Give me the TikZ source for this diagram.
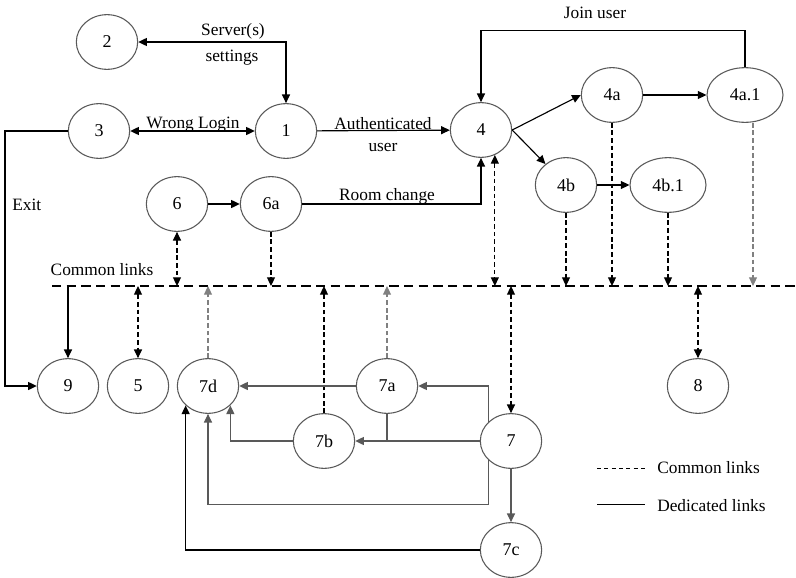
\documentclass[tikz,border=0pt]{standalone}
\usepackage{fontspec}
\setmainfont{Liberation Serif}
\usetikzlibrary{shapes.geometric,arrows.meta}
\begin{document}
\begin{tikzpicture}[x=0.75pt,y=-0.75pt,
  state/.style={ellipse,draw=black!65,line width=0.8pt,minimum width=46pt,
    minimum height=41pt,inner sep=0pt,font=\fontsize{13.5}{15}\selectfont},
  widestate/.style={state,minimum width=57pt},
  lbl/.style={font=\fontsize{13}{15}\selectfont,inner sep=0pt,anchor=base},
  ded/.style={line width=0.85pt,draw=black},
  dedg/.style={line width=0.85pt,draw=black!65},
  arr/.style={-{Triangle[length=6.5pt,width=6pt]}},
  biarr/.style={{Triangle[length=6.5pt,width=6pt]}-{Triangle[length=6.5pt,width=6pt]}},
  com/.style={line width=0.8pt,dash pattern=on 3.5pt off 2.2pt,draw=black},
  comg/.style={com,draw=black!50},
  bus/.style={line width=1.4pt,dash pattern=on 7pt off 4pt,draw=black}
]
\useasboundingbox (0,0) rectangle (796,578);

% states
\node[state] (n2) at (107,42) {2};
\node[state] (n1) at (286,131) {1};
\node[state] (n3) at (99,131) {3};
\node[state] (n4) at (481,130) {4};
\node[state] (n4a) at (612,95) {4a};
\node[widestate] (n4a1) at (745,95) {4a.1};
\node[state] (n4b) at (566,185) {4b};
\node[widestate] (n4b1) at (668,185) {4b.1};
\node[state] (n6) at (177,204) {6};
\node[state] (n6a) at (271,204) {6a};
\node[state] (n9) at (68,386) {9};
\node[state] (n5) at (138,386) {5};
\node[state] (n7d) at (208,386) {7d};
\node[state] (n7a) at (387,386) {7a};
\node[state] (n7b) at (324,441) {7b};
\node[state] (n7) at (511,441) {7};
\node[state] (n7c) at (511,550) {7c};
\node[state] (n8) at (698,386) {8};

% common-links bus
\coordinate (busL) at (52,286);
\coordinate (busR) at (796,286);
\draw[bus] (busL) -- (busR);
\node[lbl] (buslbl) at (102,275) {Common links};

% dedicated links, upper part
\draw[ded,biarr] (n2.east) -| (n1.north);
\node[lbl] (srv1) at (233,36) {Server(s)};
\node[lbl] (srv2) at (232,61) {settings};

\draw[ded,biarr] (n3) -- (n1);
\node[lbl] (wrong) at (193,128) {Wrong Login};

\draw[ded,arr] (n1) -- (n4);
\node[lbl] (auth1) at (383,129) {Authenticated};
\node[lbl] (auth2) at (383,151) {user};

\coordinate (exitc) at (5,131);
\draw[ded,arr] (n3.west) -- (exitc) |- (n9.west);
\node[lbl,anchor=base west] (exitlbl) at (12,210) {Exit};

\draw[ded,arr] (n6) -- (n6a);
\draw[ded,arr] (n6a.east) -| (n4.south);
\node[lbl] (room) at (387,200) {Room change};

\draw[ded,arr] (n4.east) -- (n4a.west);
\draw[ded,arr] (n4.east) -- (n4b);
\draw[ded,arr] (n4a) -- (n4a1);
\draw[ded,arr] (n4b) -- (n4b1);
\draw[ded,arr] (n4a1.north) -- ++(0,-37) -| (n4.north);
\node[lbl] (join) at (595,18) {Join user};

% common links to and from the bus
\draw[com,biarr] (n6.south) -- (n6.south |- busL);
\draw[com,arr] (n6a.south) -- (n6a.south |- busL);
\draw[com,biarr] (n4.-61) -- (n4.-61 |- busL);
\draw[com,arr] (n4b.south) -- (n4b.south |- busL);
\draw[com,arr] (n4a.south) -- (n4a.south |- busL);
\draw[com,arr] (n4b1.south) -- (n4b1.south |- busL);
\draw[comg,arr] ([xshift=6pt]n4a1.south) -- ([xshift=6pt]n4a1.south |- busL);

\draw[ded,arr] (n9.north |- busL) -- (n9.north);
\draw[com,biarr] (n5.north |- busL) -- (n5.north);
\draw[comg,arr] (n7d.north) -- (n7d.north |- busL);
\draw[com,arr] (n7b.north) -- (n7b.north |- busL);
\draw[comg,arr] (n7a.north) -- (n7a.north |- busL);
\draw[com,biarr] (n7.north |- busL) -- (n7.north);
\draw[com,biarr] (n8.north |- busL) -- (n8.north);

% dedicated links, lower part
\draw[dedg,arr] (n7.139) |- (n7a.east);
\draw[dedg,arr] (n7) -- (n7b);
\draw[dedg] (n7a.south) -- (n7a.south |- n7b.east);
\draw[dedg,arr] (n7a) -- (n7d);
\draw[dedg,arr] (n7b.west) -| (n7d.319);
\draw[dedg,arr] (n7.221) -- ++(0,44) -| (n7d.south);
\draw[dedg,arr] (n7) -- (n7c);
\draw[ded,arr] (n7c.west) -| (n7d.221);

% legend
\coordinate (lgA) at (597,468);
\coordinate (lgB) at (645,468);
\coordinate (lgC) at (597,504);
\coordinate (lgD) at (645,504);
\draw[line width=0.5pt,dash pattern=on 3pt off 2.5pt] (lgA) -- (lgB);
\draw[line width=0.5pt] (lgC) -- (lgD);
\node[lbl,anchor=base west] (lg1) at (657,473) {Common links};
\node[lbl,anchor=base west] (lg2) at (657,511) {Dedicated links};
\end{tikzpicture}
\end{document}
